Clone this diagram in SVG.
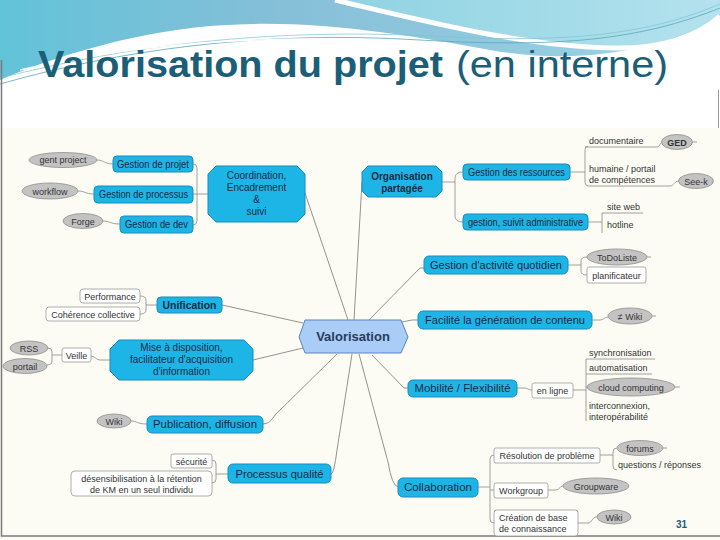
<svg xmlns="http://www.w3.org/2000/svg" width="720" height="540" viewBox="0 0 720 540">
<defs>
<linearGradient id="band" x1="0" y1="0" x2="1" y2="0">
<stop offset="0" stop-color="#62c3d9"/>
<stop offset="0.4" stop-color="#86bfd8"/>
<stop offset="1" stop-color="#9dd6e6"/>
</linearGradient>
<linearGradient id="band2" x1="0" y1="0" x2="1" y2="0">
<stop offset="0" stop-color="#8fd3e2"/>
<stop offset="1" stop-color="#b4e2ee"/>
</linearGradient>
</defs>
<style>
.main{fill:#1db4e6;stroke:#178ec0;stroke-width:1}
.ctr{fill:#a9cdf7;stroke:#5a85b8;stroke-width:1}
.ell{fill:#c3c3c3;stroke:#8e8e8e;stroke-width:0.8}
.box{fill:#ffffff;stroke:#9a9a9a;stroke-width:0.8}
.ln{fill:none;stroke:#777;stroke-width:0.8}
.sl{fill:none;stroke:#8a8a8a;stroke-width:0.8}
text{font-family:"Liberation Sans",Arial,sans-serif}
.mt{font-size:10px;fill:#1b2c45;text-anchor:middle}
.st{font-size:9px;fill:#333;text-anchor:middle}
.sx{font-size:9px;fill:#333}
</style>
<rect width="720" height="540" fill="#ffffff"/>
<path d="M0,0 H720 V18 C660,50 580,66 490,50 C400,34 310,18 210,26 C130,33 50,58 0,80 Z" fill="url(#band)"/>
<path d="M340,0 C420,18 520,44 610,46 C665,47 700,32 720,14 V0 Z" fill="url(#band2)"/>
<path d="M335,0 C420,20 520,46 612,48 C668,49 700,34 720,16" fill="none" stroke="#ffffff" stroke-width="5"/>
<path d="M0,84 C120,50 260,30 420,40 C560,48 640,40 720,8" fill="none" stroke="#5aa6bd" stroke-width="0.8"/>
<path d="M0,78 C130,45 270,28 430,36 C570,44 650,34 720,4" fill="none" stroke="#7fc0d2" stroke-width="0.7"/>
<path d="M20,70 C150,40 290,33 450,44" fill="none" stroke="#ffffff" stroke-width="1.5"/>
<text x="38" y="77" font-family="'Open Sans','Noto Sans',sans-serif" font-size="36" font-weight="bold" fill="#1b5e78" textLength="405" lengthAdjust="spacingAndGlyphs">Valorisation du projet</text>
<text x="456" y="77" font-family="'Open Sans','Noto Sans',sans-serif" font-size="36" fill="#1b5e78" textLength="212" lengthAdjust="spacingAndGlyphs">(en interne)</text>
<rect x="0" y="128" width="720" height="412" fill="#fcfcf4"/>
<path d="M1.5,60 V536 H720" fill="none" stroke="#7a7a7a" stroke-width="1.5"/>
<path d="M718.5,90 V128" fill="none" stroke="#9a9a9a" stroke-width="1"/>

<g id="connectors">
<path class="ln" d="M305,193 L348,320"/>
<path class="ln" d="M364,182 H362 L354,320"/>
<path class="ln" d="M369,320 L420,268 H424"/>
<path class="ln" d="M402,322 L412,320 H418"/>
<path class="ln" d="M372,355 L404,388 H408"/>
<path class="ln" d="M359,354 L388,462 Q392,486 398,487"/>
<path class="ln" d="M352,354 L337,450 Q334,474 331,474"/>
<path class="ln" d="M337,354 L275,415 Q270,424 263,424"/>
<path class="ln" d="M303,348 L253,360"/>
<path class="ln" d="M222,305 L303,323"/>
<path class="sl" d="M97,160 C104,160 104,164 113,164"/>
<path class="sl" d="M78,191 C85,191 85,194 94,194"/>
<path class="sl" d="M103,221 C110,221 110,224 120,224"/>
<path class="sl" d="M193,164 Q197,164 197,168 V221 Q197,225 193,225 M193,194 H208"/>
<path class="sl" d="M442,182 H455 M463,172 Q455,172 455,178 V216 Q455,222 463,222"/>
<path class="sl" d="M570,172 H585 M588,146 Q585,146 585,150 V182 Q585,186 588,186"/>
<path class="sl" d="M585,147 H656 C661,147 659,142 664,142"/>
<path class="sl" d="M588,186 H670 C674,186 674,181 679,181"/>
<path class="sl" d="M588,222 H602 M602,213 V233 M602,213 H643"/>
<path class="sl" d="M568,265 H581 M587,257 Q581,257 581,261 V271 Q581,275 587,275"/>
<path class="sl" d="M592,320 H600 C604,320 604,317 608,317"/>
<path class="sl" d="M157,305 H146 M140,296 Q146,296 146,300 V310 Q146,314 140,314"/>
<path class="sl" d="M110,360 H100 C96,360 95,356 91,356"/>
<path class="sl" d="M62,355 H52 M48,348 Q52,348 52,352 V361 Q52,365 47,365"/>
<path class="sl" d="M517,388 H524 C528,388 528,390 532,390"/>
<path class="sl" d="M573,390 H586 M586,359 V421 M586,359 H655 M586,374 H652 M586,387 H587"/>
<path class="sl" d="M131,421 C137,421 137,424 147,424"/>
<path class="sl" d="M228,474 H216 M212,460 Q216,460 216,464 V479 Q216,483 212,483"/>
<path class="sl" d="M478,487 H490 M494,455 Q490,455 490,459 V519 Q490,523 494,523 M490,490 H494"/>
<path class="sl" d="M600,455 H613 M617,448 Q613,448 613,452 V466 Q613,470 617,470"/>
<path class="sl" d="M548,490 H556 C560,490 559,486 563,486"/>
<path class="sl" d="M578,523 H588 C592,523 592,517 597,517"/>
<path class="sl" d="M652,316 H656"/>
<path class="sl" d="M692,142 H697"/>
<path class="sl" d="M647,257 H651"/>
<path class="sl" d="M663,448 H667"/>
<path class="sl" d="M674,387 H680"/>
</g>

<g id="n-valorisation">
<polygon class="ctr" points="305,320 401,320 408,337 401,353 305,353 299,337"/>
<text x="353" y="341" font-size="13" font-weight="bold" fill="#2a3b58" text-anchor="middle">Valorisation</text>
</g>

<g id="n-coordination">
<polygon class="main" points="216,166 297,166 305,174 305,214 297,222 216,222 208,214 208,174"/>
<text class="mt" x="256.5" y="179">Coordination,</text>
<text class="mt" x="256.5" y="191">Encadrement</text>
<text class="mt" x="256.5" y="203">&amp;</text>
<text class="mt" x="256.5" y="215">suivi</text>
</g>
<g id="n-gestion-projet">
<rect class="main" x="113" y="156" width="80" height="16" rx="4"/>
<text class="mt" x="153" y="167.5" font-size="9.5" textLength="72" lengthAdjust="spacingAndGlyphs">Gestion de projet</text>
</g>
<g id="n-gantt">
<ellipse class="ell" cx="63" cy="160" rx="34" ry="7.5"/>
<text class="st" x="63" y="163">gent project</text>
</g>
<g id="n-gestion-processus">
<rect class="main" x="94" y="186" width="99" height="17" rx="4"/>
<text class="mt" x="143.5" y="198" font-size="9.5" textLength="89" lengthAdjust="spacingAndGlyphs">Gestion de processus</text>
</g>
<g id="n-workflow">
<ellipse class="ell" cx="50" cy="191" rx="28" ry="8"/>
<text class="st" x="50" y="194.5">workflow</text>
</g>
<g id="n-gestion-dev">
<rect class="main" x="120" y="216" width="73" height="17" rx="4"/>
<text class="mt" x="156.5" y="228" font-size="9.5" textLength="63" lengthAdjust="spacingAndGlyphs">Gestion de dev</text>
</g>
<g id="n-forge">
<ellipse class="ell" cx="83" cy="221" rx="20" ry="7.5"/>
<text class="st" x="83" y="224.5">Forge</text>
</g>

<g id="n-organisation">
<polygon class="main" points="368,166 436,166 442,172 442,191 436,197 368,197 362,191 362,172"/>
<text class="mt" x="402" y="180" font-weight="bold">Organisation</text>
<text class="mt" x="402" y="192" font-weight="bold">partagée</text>
</g>
<g id="n-ressources">
<rect class="main" x="463" y="164" width="107" height="16" rx="4"/>
<text class="mt" x="516.5" y="175.5" font-size="9" textLength="97" lengthAdjust="spacingAndGlyphs">Gestion des ressources</text>
</g>
<g id="n-documentaire">
<text class="sx" x="589" y="144">documentaire</text>
</g>
<g id="n-ged">
<ellipse class="ell" cx="677" cy="142" rx="15.5" ry="7.5"/>
<text class="st" x="677" y="145.5" font-weight="bold">GED</text>
</g>
<g id="n-humaine">
<text class="sx" x="589" y="172">humaine / portail</text>
<text class="sx" x="589" y="183">de compétences</text>
</g>
<g id="n-seek">
<ellipse class="ell" cx="696" cy="181" rx="17.5" ry="7.5"/>
<text class="st" x="696" y="184.5">See-k</text>
</g>
<g id="n-admin">
<rect class="main" x="463" y="214" width="125" height="16" rx="4"/>
<text class="mt" x="525.5" y="225.5" font-size="9" textLength="115" lengthAdjust="spacingAndGlyphs">gestion, suivit administrative</text>
</g>
<g id="n-siteweb"><text class="sx" x="607" y="210">site web</text></g>
<g id="n-hotline"><text class="sx" x="607" y="228">hotline</text></g>

<g id="n-quotidien">
<rect class="main" x="424" y="256" width="144" height="18" rx="5"/>
<text class="mt" x="496" y="269" font-size="10.5" textLength="132" lengthAdjust="spacingAndGlyphs">Gestion d'activité quotidien</text>
</g>
<g id="n-todo">
<ellipse class="ell" cx="617" cy="257" rx="30" ry="8"/>
<text class="st" x="617" y="260.5">ToDoListe</text>
</g>
<g id="n-planif">
<rect class="box" x="587" y="267" width="59" height="16" rx="2"/>
<text class="st" x="616.5" y="278.5">planificateur</text>
</g>

<g id="n-facilite">
<rect class="main" x="418" y="311" width="174" height="18" rx="5"/>
<text class="mt" x="505" y="324" font-size="10.5" textLength="160" lengthAdjust="spacingAndGlyphs">Facilité la génération de contenu</text>
</g>
<g id="n-notwiki">
<ellipse class="ell" cx="630" cy="316" rx="22" ry="8"/>
<text class="st" x="630" y="319.5">≠ Wiki</text>
</g>

<g id="n-unification">
<rect class="main" x="157" y="297" width="65" height="16" rx="4"/>
<text class="mt" x="189.5" y="309" font-weight="bold" textLength="54" lengthAdjust="spacingAndGlyphs">Unification</text>
</g>
<g id="n-performance">
<rect class="box" x="80" y="289" width="60" height="14" rx="3"/>
<text class="st" x="110" y="299.5">Performance</text>
</g>
<g id="n-coherence">
<rect class="box" x="46" y="307" width="94" height="14" rx="3"/>
<text class="st" x="93" y="317.5">Cohérence collective</text>
</g>

<g id="n-mise">
<polygon class="main" points="119,340 244,340 253,349 253,371 244,380 119,380 110,371 110,349"/>
<text class="mt" x="181.5" y="351" font-size="10.5">Mise à disposition,</text>
<text class="mt" x="181.5" y="363" font-size="10.5">facilitateur d'acquisition</text>
<text class="mt" x="181.5" y="375" font-size="10.5">d'information</text>
</g>
<g id="n-veille">
<rect class="box" x="62" y="348" width="29" height="14" rx="2"/>
<text class="st" x="76.5" y="358.5">Veille</text>
</g>
<g id="n-rss">
<ellipse class="ell" cx="29" cy="348" rx="19" ry="7"/>
<text class="st" x="29" y="351.5">RSS</text>
</g>
<g id="n-portail">
<ellipse class="ell" cx="25" cy="366" rx="22" ry="7.5"/>
<text class="st" x="25" y="369.5">portail</text>
</g>

<g id="n-mobilite">
<rect class="main" x="408" y="380" width="109" height="17" rx="5"/>
<text class="mt" x="462.5" y="392" font-size="10.5" textLength="96" lengthAdjust="spacingAndGlyphs">Mobilité / Flexibilité</text>
</g>
<g id="n-enligne">
<rect class="box" x="532" y="383" width="41" height="15" rx="2"/>
<text class="st" x="552.5" y="394">en ligne</text>
</g>
<g id="n-synchro"><text class="sx" x="589" y="356">synchronisation</text></g>
<g id="n-automat"><text class="sx" x="589" y="371">automatisation</text></g>
<g id="n-cloud">
<ellipse class="ell" cx="631" cy="387" rx="44" ry="9"/>
<text class="st" x="631" y="390.5">cloud computing</text>
</g>
<g id="n-interco">
<text class="sx" x="589" y="409">interconnexion,</text>
<text class="sx" x="589" y="420">interopérabilité</text>
</g>

<g id="n-publication">
<rect class="main" x="147" y="416" width="116" height="17" rx="5"/>
<text class="mt" x="205" y="428" font-size="10.5" textLength="104" lengthAdjust="spacingAndGlyphs">Publication, diffusion</text>
</g>
<g id="n-wiki1">
<ellipse class="ell" cx="114" cy="421" rx="17" ry="7"/>
<text class="st" x="114" y="424.5">Wiki</text>
</g>

<g id="n-qualite">
<rect class="main" x="228" y="464" width="103" height="19" rx="5"/>
<text class="mt" x="279.5" y="477.5" font-size="10.5" textLength="88" lengthAdjust="spacingAndGlyphs">Processus qualité</text>
</g>
<g id="n-securite">
<rect class="box" x="171" y="454" width="41" height="14" rx="2"/>
<text class="st" x="191.5" y="464.5">sécurité</text>
</g>
<g id="n-desens">
<rect class="box" x="71" y="471" width="141" height="25" rx="4"/>
<text class="st" x="141.5" y="481.5">désensibilisation à la rétention</text>
<text class="st" x="141.5" y="492.5">de KM en un seul individu</text>
</g>

<g id="n-collaboration">
<rect class="main" x="398" y="478" width="80" height="19" rx="5"/>
<text class="mt" x="438" y="491" font-size="10.5" textLength="68" lengthAdjust="spacingAndGlyphs">Collaboration</text>
</g>
<g id="n-resolution">
<rect class="box" x="494" y="448" width="106" height="15" rx="2"/>
<text class="st" x="547" y="459">Résolution de problème</text>
</g>
<g id="n-forums">
<ellipse class="ell" cx="640" cy="448" rx="23" ry="7.5"/>
<text class="st" x="640" y="451.5">forums</text>
</g>
<g id="n-questions"><text class="sx" x="618" y="467.5">questions / réponses</text></g>
<g id="n-workgroup">
<rect class="box" x="494" y="483" width="54" height="15" rx="2"/>
<text class="st" x="521" y="494">Workgroup</text>
</g>
<g id="n-groupware">
<ellipse class="ell" cx="596" cy="486" rx="33" ry="8"/>
<text class="st" x="596" y="489.5">Groupware</text>
</g>
<g id="n-creation">
<rect class="box" x="494" y="510" width="84" height="26" rx="3"/>
<text class="sx" x="499" y="520.5">Création de base</text>
<text class="sx" x="499" y="531.5">de connaissance</text>
</g>
<g id="n-wiki2">
<ellipse class="ell" cx="614" cy="517" rx="17" ry="7"/>
<text class="st" x="614" y="520.5">Wiki</text>
</g>

<text x="676" y="528" font-size="10" font-weight="bold" fill="#1b5e78">31</text>
</svg>
